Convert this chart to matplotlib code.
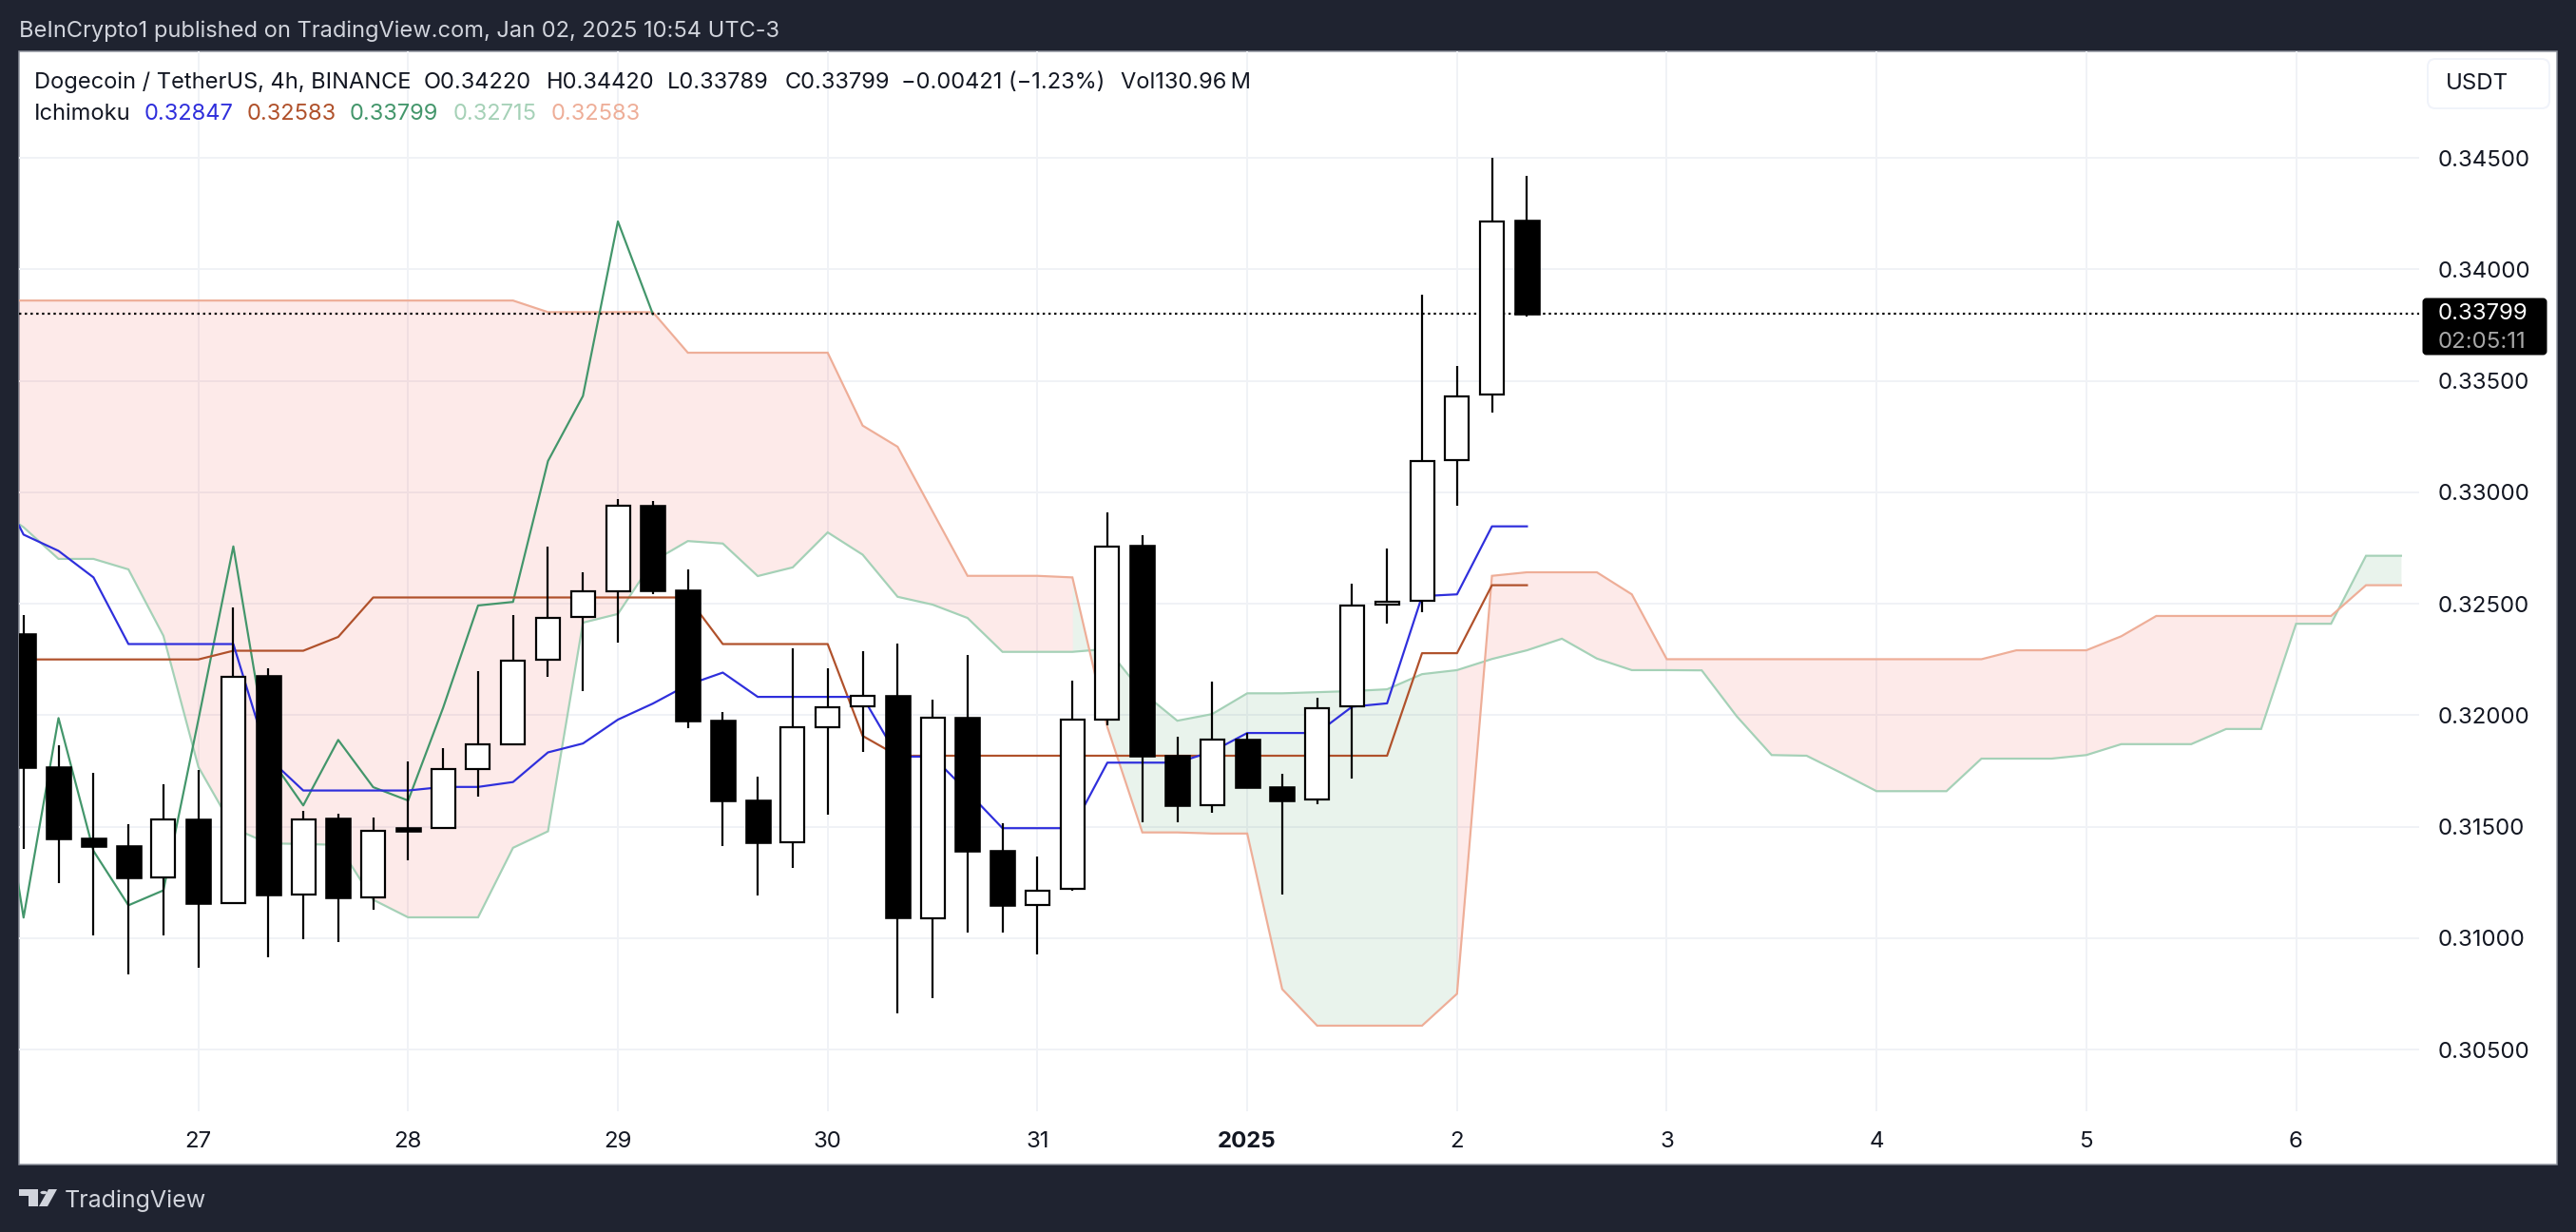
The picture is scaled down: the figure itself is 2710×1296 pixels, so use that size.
import matplotlib
matplotlib.use('Agg')
import matplotlib.pyplot as plt
from matplotlib.patches import Rectangle, FancyBboxPatch, Polygon, Circle
import numpy as np

plt.rcParams['font.family'] = ['Inter', 'DejaVu Sans']

W, H = 2710, 1296

# candles, 4h, first one is 5 bars before the "27" tick
opens = [.32364, .31768, .31448, .31412, .31273, .31534, .31158, .32175, .31196, .31536, .31183,
         .31493, .31493, .31760, .31871, .32247, .32440, .32557, .32941, .32560, .31975, .31618,
         .31431, .31948, .32038, .32087, .31088, .31989, .31391, .31149, .31221, .31982, .32761,
         .31820, .31598, .31892, .31677, .31620, .32038, .32495, .32513, .33145, .33437, .34220]
closes = [.31768, .31446, .31412, .31271, .31534, .31155, .32172, .31196, .31534, .31181, .31479,
          .31480, .31757, .31868, .32243, .32435, .32556, .32940, .32560, .31975, .31616, .31428,
          .31944, .32034, .32085, .31092, .31987, .31391, .31147, .31214, .31979, .32757, .31820,
          .31595, .31889, .31677, .31617, .32033, .32492, .32508, .33140, .33432, .34215, .33799]
highs = [.32451, .31866, .31743, .31513, .31691, .31752, .32484, .32212, .31572, .31559, .31542,
         .31794, .31850, .32199, .32451, .32758, .32642, .32969, .32961, .32655, .32016, .31725,
         .32301, .32212, .32289, .32322, .32070, .32268, .31515, .31366, .32155, .32908, .32806,
         .31905, .32149, .31920, .31738, .32077, .32591, .32748, .33886, .33568, .34500, .34420]
lows = [.31400, .31245, .31013, .30835, .31010, .30869, .31158, .30913, .30997, .30984, .31127,
        .31348, .31490, .31634, .31871, .32172, .32108, .32324, .32544, .31941, .31412, .31190,
        .31314, .31552, .31835, .30663, .30729, .31023, .31023, .30928, .31211, .31954, .31518,
        .31518, .31560, .31860, .31197, .31602, .31717, .32411, .32463, .32941, .33356, .33789]

# ichimoku lines, all start one bar before the first candle
conversion = [.33120, .32810, .32737, .32618, .32319, .32319, .32319, .32319, .31809,
              .31662, .31662, .31662, .31662, .31678, .31678, .31700, .31833, .31873,
              .31980, .32052, .32136, .32191, .32082, .32082, .32082, .32082, .31814,
              .31814, .31657, .31493, .31493, .31493, .31787, .31787, .31787, .31837,
              .31920, .31920, .31920, .32038, .32053, .32534, .32542, .32847, .32847]
base = [.32250, .32250, .32250, .32250, .32250, .32250, .32250, .32289, .32289, .32289,
        .32351, .32528, .32528, .32528, .32528, .32528, .32528, .32528, .32528, .32528,
        .32528, .32319, .32319, .32319, .32319, .31907, .31818, .31818, .31818, .31818,
        .31818, .31818, .31818, .31818, .31818, .31818, .31818, .31818, .31818, .31818,
        .31818, .32278, .32278, .32583, .32583]
lagging = closes[24:]
lead_a = [.32950, .32843, .32701, .32701, .32654, .32356, .31768, .31493, .31425, .31422,
          .31418, .31172, .31093, .31093, .31093, .31405, .31479, .32415, .32454, .32690,
          .32781, .32770, .32624, .32663, .32820, .32720, .32531, .32496, .32436, .32284,
          .32284, .32284, .32297, .32103, .31975, .32005, .32098, .32098, .32103, .32108,
          .32116, .32184, .32202, .32252, .32291, .32343, .32254, .32202, .32202, .32201,
          .31995, .31821, .31818, .31740, .31659, .31659, .31659, .31805, .31805, .31805,
          .31821, .31870, .31870, .31870, .31938, .31938, .32410, .32410, .32715, .32715]
lead_b = [.33860] * 16 + [.33808] * 4 + [.33626] * 5 + [.33299, .33204, .32914, .32625, .32625,
          .32625, .32618, .31946, .31474, .31474, .31469, .31469, .30771, .30607, .30607,
          .30607, .30607, .30750, .32625, .32641, .32641, .32641, .32542] + [.32251] * 10 + \
         [.32291, .32291, .32291, .32354] + [.32445] * 6 + [.32583, .32583]

price_ticks = [.305, .31, .315, .32, .325, .33, .335, .34, .345]
day_ticks = [0, 6, 12, 18, 24, 30, 36, 42, 48, 54, 60]
day_labels = ['27', '28', '29', '30', '31', '2025', '2', '3', '4', '5', '6']

last_price = .33799

DARK = '#1f2330'
BLUE = '#2f2fdc'
BROWN = '#b0512b'
GREEN = '#43966b'
LEAD_A = '#a5d1b7'
LEAD_B = '#eeae98'
GRID = '#f0f2f6'
TEXT = '#131722'


def fx(px):
    return px / W


def fy(py):
    return 1 - py / H


def lw(px):
    return px * 0.72


fig = plt.figure(figsize=(W / 100, H / 100), dpi=100, facecolor=DARK)

# white panel
fig.patches.append(Rectangle((fx(20), fy(1225)), fx(2670), 1171 / H, transform=fig.transFigure,
                             facecolor='white', edgecolor='#8f949e', linewidth=lw(1.5), zorder=0))

ax = fig.add_axes([fx(20), fy(1169), fx(2525), 1115 / H], facecolor='none', zorder=2)
ax.set_xlim(-5.13, 63.52)
ax.set_ylim(.30223, .34978)
for s in ax.spines.values():
    s.set_visible(False)

ax.set_yticks(price_ticks)
ax.set_yticklabels(['%.5f' % p for p in price_ticks])
ax.yaxis.tick_right()
ax.tick_params(axis='y', length=0, pad=14.4, labelsize=17.3, labelcolor=TEXT)
ax.set_xticks(day_ticks)
ax.set_xticklabels(day_labels)
ax.tick_params(axis='x', length=0, pad=15, labelsize=17.3, labelcolor=TEXT)
ax.get_xticklabels()[5].set_fontweight('bold')
ax.grid(True, color=GRID, linewidth=lw(2))
ax.set_axisbelow(True)

# cloud, colour of a segment is set by its right end
x_cloud = np.arange(-6, 64)
a = np.array(lead_a)
b = np.array(lead_b)
start = 0
for i in range(1, len(a)):
    up = a[i] > b[i]
    if i == len(a) - 1 or (a[i + 1] > b[i + 1]) != up:
        c = '#2e8b46' if up else '#f0362f'
        ax.fill_between(x_cloud[start:i + 1], a[start:i + 1], b[start:i + 1], color=c,
                        alpha=0.1, linewidth=0, zorder=1)
        start = i

ax.plot(x_cloud, lead_a, color=LEAD_A, lw=lw(2.2), zorder=2, solid_joinstyle='miter')
ax.plot(x_cloud, lead_b, color=LEAD_B, lw=lw(2.2), zorder=2, solid_joinstyle='miter')
ax.plot(np.arange(-6, 14), lagging, color=GREEN, lw=lw(2.2), zorder=2)
ax.plot(np.arange(-6, 39), base, color=BROWN, lw=lw(2.2), zorder=2)
ax.plot(np.arange(-6, 39), conversion, color=BLUE, lw=lw(2.2), zorder=2)

ax.axhline(last_price, color='black', lw=lw(2.2), linestyle=(0, (1.1, 1.65)), zorder=3)

# candles
x_c = np.arange(-5, 39)
o = np.array(opens)
c = np.array(closes)
ax.vlines(x_c, lows, highs, color='black', lw=lw(2.2), zorder=4)
ups = c >= o
ax.bar(x_c[ups], (c - o)[ups], bottom=o[ups], width=0.68, facecolor='white', edgecolor='black',
       linewidth=lw(2.2), zorder=5)
ax.bar(x_c[~ups], (c - o)[~ups], bottom=o[~ups], width=0.68, facecolor='black', edgecolor='black',
       linewidth=lw(2.6), zorder=5)

# price tag
fig.patches.append(FancyBboxPatch((fx(2550), fy(372)), fx(128), 57 / H, transform=fig.transFigure,
                                  boxstyle='round,pad=0,rounding_size=0.001', mutation_aspect=2.09,
                                  facecolor='black', edgecolor='black', linewidth=lw(3), zorder=3))
fig.text(fx(2565), fy(330.5), '%.5f' % last_price, color='white', fontsize=17.3, va='center', zorder=4)
fig.text(fx(2565), fy(359.5), '02:05:11', color='#a8a8a8', fontsize=17.3, va='center', zorder=4)

# USDT button
fig.patches.append(FancyBboxPatch((fx(2554), fy(114)), fx(128), 52 / H, transform=fig.transFigure,
                                  boxstyle='round,pad=0,rounding_size=0.003', mutation_aspect=2.09,
                                  facecolor='white', edgecolor='#f0f3fa', linewidth=lw(2), zorder=3))
fig.text(fx(2573), fy(87.5), 'USDT', color=TEXT, fontsize=17.3, va='center', zorder=4)

# header, footer
fig.text(fx(20), fy(33), 'BeInCrypto1 published on TradingView.com, Jan 02, 2025 10:54 UTC-3',
         color='#d1d4dc', fontsize=17, va='center')
fig.text(fx(68), fy(1263), 'TradingView', color='#d1d4dc', fontsize=18, va='center')


def logo_poly(pts):
    fig.patches.append(Polygon([(fx(p[0]), fy(p[1])) for p in pts], closed=True,
                               transform=fig.transFigure, facecolor='#d1d4dc', edgecolor='none', zorder=3))


logo_poly([(20, 1251), (40, 1251), (40, 1269), (30, 1269), (30, 1258), (20, 1258)])
logo_poly([(51, 1251), (60, 1251), (50, 1269), (41, 1269)])
fig.patches.append(Circle((fx(46), fy(1254.5)), 3.6 / W, transform=fig.transFigure,
                          facecolor='#d1d4dc', edgecolor='none', zorder=3))

# legend lines
ohlc_text = [(36, 'Dogecoin / TetherUS, 4h, BINANCE'), (446, 'O0.34220'), (575, 'H0.34420'),
             (702, 'L0.33789'), (826, 'C0.33799'), (948, '\u22120.00421 (\u22121.23%)'),
             (1179, 'Vol130.96\u2009M')]
for px, t in ohlc_text:
    fig.text(fx(px), fy(87), t, color=TEXT, fontsize=17, va='center', zorder=4)

ichi_text = [(36, 'Ichimoku', TEXT), (152, '0.32847', BLUE), (260, '0.32583', BROWN),
             (368, '0.33799', GREEN), (477, '0.32715', LEAD_A), (580, '0.32583', LEAD_B)]
for px, t, col in ichi_text:
    fig.text(fx(px), fy(120.5), t, color=col, fontsize=17, va='center', zorder=4)

fig.savefig('out.png', dpi=100, facecolor=DARK)
